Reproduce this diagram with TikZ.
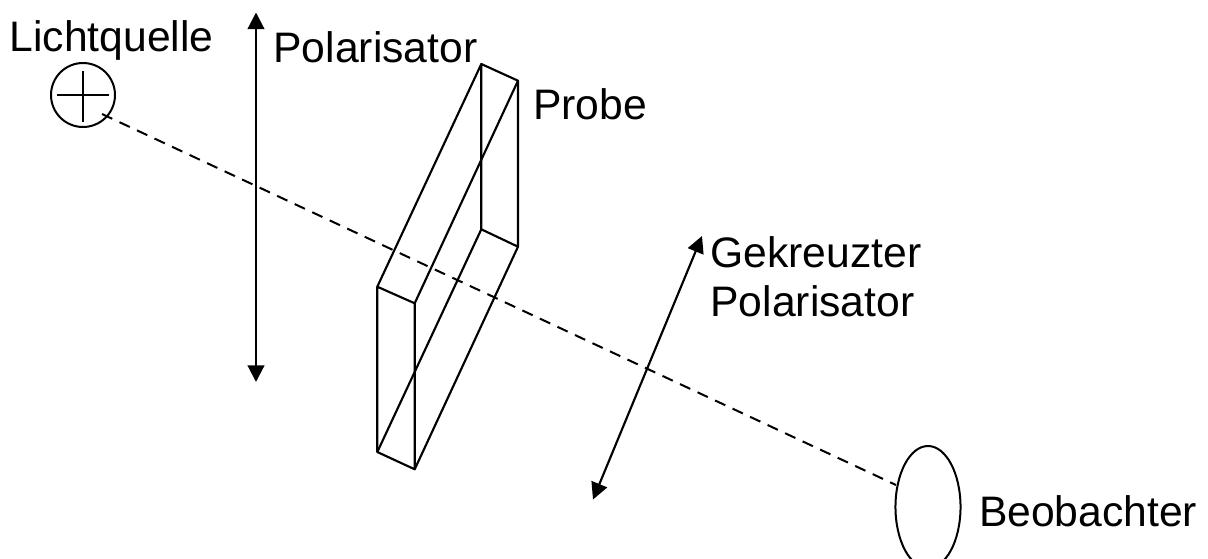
\documentclass[tikz,border=0pt]{standalone}
\usepackage{fontspec}
\setmainfont{Liberation Sans}
\usetikzlibrary{arrows.meta,shapes.geometric}
\tikzset{
  ln/.style={line width=1.6pt,draw=black,line join=round},
  arr/.style={ln,{Triangle[length=12.5pt,width=12.5pt]}-{Triangle[length=12.5pt,width=12.5pt]}},
  dashline/.style={line width=1.5pt,draw=black,dash pattern=on 8.5pt off 6pt},
  lbl/.style={anchor=base west,inner sep=0pt,outer sep=0pt,font=\fontsize{32pt}{38pt}\selectfont},
}
\begin{document}
\begin{tikzpicture}[x=0.75pt,y=-0.75pt]
\useasboundingbox (0,0) rectangle (1208,558);
% lamp
\node[circle,draw,line width=1.5pt,minimum size=48pt,inner sep=0pt] (lamp) at (83,95) {};
\coordinate (cl) at (57,95); \coordinate (cr) at (109,95);
\coordinate (ct) at (83,71); \coordinate (cb) at (83,122);
\draw[ln] (cl)--(cr); \draw[ln] (ct)--(cb);
% observer
\begin{scope}
\clip (860,430) rectangle (1208,558);
\node[ellipse,draw,line width=1.5pt,minimum width=48.8pt,minimum height=91.5pt,inner sep=0pt] (obs) at (928,507) {};
\end{scope}
% beam
\coordinate (beamstart) at (102,114);
\coordinate (beamend) at (896,485);
\draw[dashline] (beamstart)--(beamend);
% polarizer arrows
\coordinate (p1t) at (256,12.5); \coordinate (p1b) at (256,382);
\draw[arr] (p1t)--(p1b);
\coordinate (p2t) at (702,236); \coordinate (p2b) at (593,499.5);
\draw[arr] (p2t)--(p2b);
% sample
\coordinate (A) at (481.3,64); \coordinate (B) at (518,80.7);
\coordinate (A1) at (481.3,229.3); \coordinate (B1) at (518,246.7);
\coordinate (C) at (377.3,286.7); \coordinate (D) at (414.7,303.3);
\coordinate (C1) at (377.3,452); \coordinate (D1) at (414.7,469.3);
\draw[ln] (A)--(B)--(B1)--(A1)--cycle;
\draw[ln] (C)--(D)--(D1)--(C1)--cycle;
\draw[ln] (A)--(C);
\draw[ln] (B)--(D);
\draw[ln] (A1)--(C1);
\draw[ln] (B1)--(D1);
% labels
\node[lbl] (t1) at (9.5,51.5) {Lichtquelle};
\node[lbl] (t2) at (273.5,62.5) {Polarisator};
\node[lbl] (t3) at (533,119) {Probe};
\node[lbl] (t4) at (710.5,267.5) {Gekreuzter};
\node[lbl] (t5) at (710.5,316.5) {Polarisator};
\node[lbl] (t6) at (979,526) {Beobachter};
\end{tikzpicture}
\end{document}
